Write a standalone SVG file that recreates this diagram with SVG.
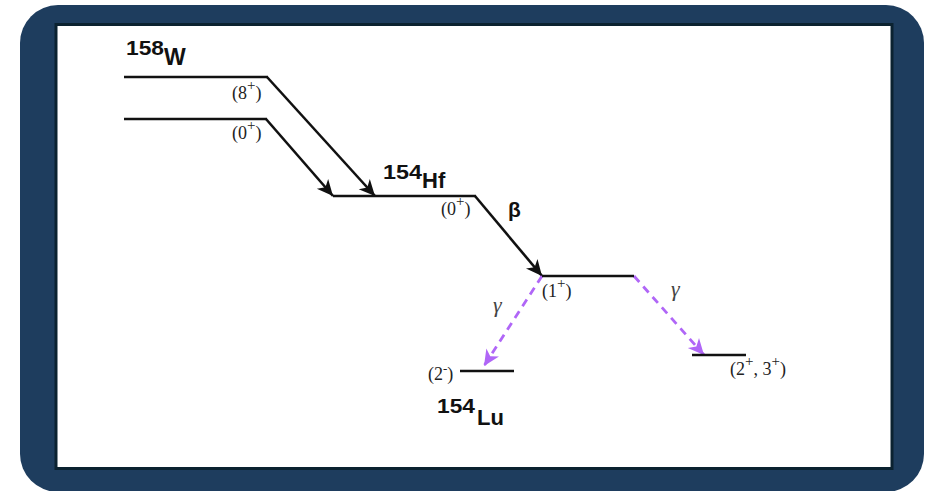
<svg xmlns="http://www.w3.org/2000/svg" width="925" height="491" viewBox="0 0 925 491">
  <style>
    .lvl { fill: none; stroke: #111; stroke-width: 2.6; stroke-linejoin: miter; }
    .gam { fill: none; stroke: #b066f7; stroke-width: 2.8; stroke-dasharray: 8 6; }
    .iso { font-family: "Liberation Sans", Arial, sans-serif; font-weight: bold; fill: #111; }
    .jp { font-family: "Liberation Serif", "Times New Roman", serif; fill: #222; font-size: 18px; }
    .sup { font-size: 15px; }
    .g { font-family: "Liberation Serif", "Times New Roman", serif; font-style: italic; fill: #444; font-size: 22px; }
  </style>
  <defs>
    <marker id="ab" markerUnits="userSpaceOnUse" viewBox="-17 -8 18 16" refX="0" refY="0" markerWidth="18" markerHeight="16" orient="auto">
      <path d="M0,0 L-16,-7.5 L-11.5,0 L-16,7.5 Z" fill="#111"/>
    </marker>
    <marker id="ap" markerUnits="userSpaceOnUse" viewBox="-17 -8 18 16" refX="0" refY="0" markerWidth="18" markerHeight="16" orient="auto">
      <path d="M0,0 L-16,-7.5 L-11.5,0 L-16,7.5 Z" fill="#b066f7"/>
    </marker>
  </defs>

  <g id="frame">
    <rect x="20" y="5" width="904" height="487" rx="38" fill="#1e3d5e"/>
    <rect x="56" y="24.5" width="836" height="444" fill="#ffffff" stroke="#0b2230" stroke-width="3"/>
  </g>

  <g id="connectors">
    <path class="lvl" d="M267,77 L375,196" marker-end="url(#ab)"/>
    <path class="lvl" d="M266,119 L333,196" marker-end="url(#ab)"/>
    <path class="lvl" d="M475,196 L542,276" marker-end="url(#ab)"/>
    <path class="gam" d="M542,276 L484,366" marker-end="url(#ap)"/>
    <path class="gam" d="M634,276 L704,355" marker-end="url(#ap)"/>
  </g>

  <g id="W158">
    <text class="iso" x="126" y="55" font-size="21" textLength="38" lengthAdjust="spacingAndGlyphs">158</text>
    <text class="iso" x="164" y="65" font-size="23">W</text>
    <path class="lvl" d="M124,77 H268"/>
    <text class="jp" x="232" y="99">(8<tspan class="sup" dy="-9">+</tspan><tspan dy="9">)</tspan></text>
    <path class="lvl" d="M124,119 H267"/>
    <text class="jp" x="232" y="139">(0<tspan class="sup" dy="-9">+</tspan><tspan dy="9">)</tspan></text>
  </g>

  <g id="Hf154">
    <text class="iso" x="383" y="179" font-size="21" textLength="39" lengthAdjust="spacingAndGlyphs">154</text>
    <text class="iso" x="422" y="188" font-size="22">Hf</text>
    <path class="lvl" d="M333,196 H476"/>
    <text class="jp" x="441" y="215">(0<tspan class="sup" dy="-9">+</tspan><tspan dy="9">)</tspan></text>
    <text class="iso" x="508" y="217" font-size="21" font-weight="normal">β</text>
  </g>

  <g id="Lu154-1plus">
    <path class="lvl" d="M542,276 H634"/>
    <text class="jp" x="542" y="297">(1<tspan class="sup" dy="-9">+</tspan><tspan dy="9">)</tspan></text>
  </g>

  <g id="Lu154-2minus">
    <path class="lvl" d="M460,371 H514"/>
    <text class="jp" x="428" y="380" font-size="15">(2<tspan font-size="13" dy="-7">-</tspan><tspan dy="7">)</tspan></text>
    <text class="g" x="493" y="312">γ</text>
    <text class="iso" x="437" y="413" font-size="21" textLength="38" lengthAdjust="spacingAndGlyphs">154</text>
    <text class="iso" x="477" y="425" font-size="22">Lu</text>
  </g>

  <g id="Lu154-23plus">
    <path class="lvl" d="M692,355 H746"/>
    <text class="jp" x="730" y="375">(2<tspan class="sup" dy="-9">+</tspan><tspan dy="9">, 3</tspan><tspan class="sup" dy="-9">+</tspan><tspan dy="9">)</tspan></text>
    <text class="g" x="671" y="296">γ</text>
  </g>
</svg>
